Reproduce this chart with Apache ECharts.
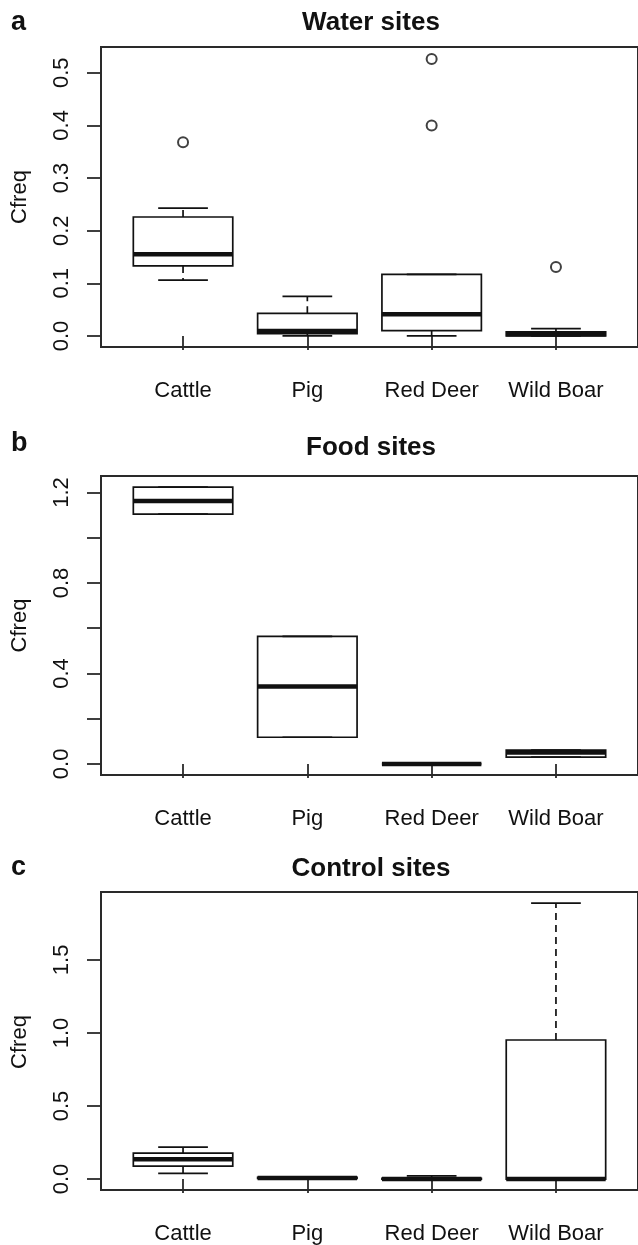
<!DOCTYPE html>
<html>
<head>
<meta charset="utf-8">
<script src="https://cdn.jsdelivr.net/npm/echarts@6/dist/echarts.min.js"></script>
<style>
html,body{margin:0;padding:0;background:#fff;}
#chart{width:638px;height:1245px;}
</style>
</head>
<body>
<div id="chart"></div>
<script>
// ---------- data ----------
const categories = ['Cattle', 'Pig', 'Red Deer', 'Wild Boar'];

// [min (lower whisker), Q1, median, Q3, max (upper whisker)] per category
const waterStats = [
  [0.106, 0.133, 0.155, 0.226, 0.243],
  [0.000, 0.0045, 0.0095, 0.043, 0.075],
  [0.000, 0.010, 0.041, 0.117, 0.117],
  [0.000, 0.000, 0.003, 0.008, 0.014]
];
const waterOutliers = [['Cattle', 0.368], ['Red Deer', 0.400], ['Red Deer', 0.526], ['Wild Boar', 0.131]];

const foodStats = [
  [1.104, 1.104, 1.162, 1.224, 1.224],
  [0.118, 0.118, 0.342, 0.564, 0.564],
  [0.000, 0.000, 0.000, 0.000, 0.000],
  [0.030, 0.030, 0.050, 0.061, 0.061]
];
const foodOutliers = [];

const controlStats = [
  [0.039, 0.088, 0.136, 0.177, 0.218],
  [0.000, 0.004, 0.008, 0.012, 0.012],
  [0.000, 0.000, 0.000, 0.005, 0.022],
  [0.000, 0.000, 0.000, 0.952, 1.889]
];
const controlOutliers = [];

const waterTicks = [0, 0.1, 0.2, 0.3, 0.4, 0.5];
const foodTicks = [0, 0.2, 0.4, 0.6, 0.8, 1.0, 1.2];
const foodLabels = [0, 0.4, 0.8, 1.2];
const controlTicks = [0, 0.5, 1.0, 1.5];

const panelTitles = ['Water sites', 'Food sites', 'Control sites'];
const panelLetters = ['a', 'b', 'c'];
const yAxisTitle = 'Cfreq';

// ---------- layout ----------
const FONT = '"Liberation Sans", Arial, sans-serif';
const INK = '#111';
const grids = [
  { left: 101, top: 47, width: 540, height: 300 },
  { left: 101, top: 476, width: 540, height: 299 },
  { left: 101, top: 892, width: 540, height: 300 }
];
const yRanges = [[-0.021, 0.549], [-0.049, 1.273], [-0.075, 1.965]];
const tickSets = [waterTicks, foodTicks, controlTicks];
const labelSets = [waterTicks, foodLabels, controlTicks];
const statSets = [waterStats, foodStats, controlStats];
const outlierSets = [waterOutliers, foodOutliers, controlOutliers];

function renderBox(params, api) {
  const x = api.value(0);
  const mn = api.value(1), q1 = api.value(2), md = api.value(3), q3 = api.value(4), mx = api.value(5);
  const hw = 0.4, cw = 0.2;
  const P = (a, b) => api.coord([a, b]);
  const base = { stroke: INK, lineWidth: 1.7, fill: null };
  const line = (p1, p2, extra) => ({
    type: 'line',
    shape: { x1: p1[0], y1: p1[1], x2: p2[0], y2: p2[1] },
    style: Object.assign({}, base, extra || {})
  });
  const children = [];
  children.push(line(P(x, q3), P(x, mx), { lineDash: [7, 5] }));
  children.push(line(P(x, q1), P(x, mn), { lineDash: [7, 5] }));
  children.push(line(P(x - cw, mx), P(x + cw, mx)));
  children.push(line(P(x - cw, mn), P(x + cw, mn)));
  const tl = P(x - hw, q3), br = P(x + hw, q1);
  children.push({
    type: 'rect',
    shape: { x: tl[0], y: tl[1], width: br[0] - tl[0], height: br[1] - tl[1] },
    style: Object.assign({}, base)
  });
  children.push(line(P(x - hw, md), P(x + hw, md), { lineWidth: 4.5 }));
  return { type: 'group', children: children };
}

const option = {
  backgroundColor: '#fff',
  animation: false,
  grid: grids.map(g => Object.assign({ show: true, borderColor: '#2a2a2a', borderWidth: 2, backgroundColor: 'transparent' }, g)),
  xAxis: grids.map((g, i) => ({
    type: 'value', gridIndex: i, min: 0.34, max: 4.66,
    axisLine: { show: false },
    splitLine: { show: false },
    axisTick: { show: true, length: 14, customValues: [1, 2, 3, 4], lineStyle: { color: '#2a2a2a', width: 1.8 } },
    axisLabel: {
      customValues: [1, 2, 3, 4], margin: 33, fontSize: 22, color: '#111', fontFamily: FONT,
      formatter: v => categories[Math.round(v) - 1]
    }
  })),
  yAxis: grids.map((g, i) => ({
    type: 'value', gridIndex: i, min: yRanges[i][0], max: yRanges[i][1],
    axisLine: { show: false },
    splitLine: { show: false },
    axisTick: { show: true, length: 14, customValues: tickSets[i], lineStyle: { color: '#2a2a2a', width: 1.8 } },
    axisLabel: {
      customValues: labelSets[i], rotate: 90, margin: 28, fontSize: 22, color: '#111', fontFamily: FONT,
      formatter: v => Number(v).toFixed(1)
    }
  })),
  series: [],
  graphic: []
};

statSets.forEach((stats, i) => {
  option.series.push({
    type: 'custom', xAxisIndex: i, yAxisIndex: i, clip: false,
    renderItem: renderBox,
    encode: { x: 0, y: [1, 2, 3, 4, 5] },
    data: stats.map((s, k) => [k + 1].concat(s))
  });
  option.series.push({
    type: 'scatter', xAxisIndex: i, yAxisIndex: i,
    symbol: 'emptyCircle', symbolSize: 10,
    itemStyle: { color: INK, borderColor: INK, borderWidth: 1.6 },
    data: outlierSets[i].map(o => [categories.indexOf(o[0]) + 1, o[1]])
  });
});

const titleY = [23, 448, 869];
const letterY = [22.6, 443.6, 867.6];
grids.forEach((g, i) => {
  option.graphic.push({
    type: 'text', x: g.left + g.width / 2, y: titleY[i],
    style: { text: panelTitles[i], font: 'bold 26px ' + FONT, fill: '#111', align: 'center', verticalAlign: 'middle' }
  });
  option.graphic.push({
    type: 'text', x: 11, y: letterY[i],
    style: { text: panelLetters[i], font: 'bold 27px ' + FONT, fill: '#111', align: 'left', verticalAlign: 'middle' }
  });
  option.graphic.push({
    type: 'text', x: 20, y: g.top + g.height / 2, rotation: Math.PI / 2,
    style: { text: yAxisTitle, font: '22px ' + FONT, fill: '#111', align: 'center', verticalAlign: 'middle' }
  });
});

const chart = echarts.init(document.getElementById('chart'), null, { renderer: 'canvas' });
chart.setOption(option);
</script>
</body>
</html>
